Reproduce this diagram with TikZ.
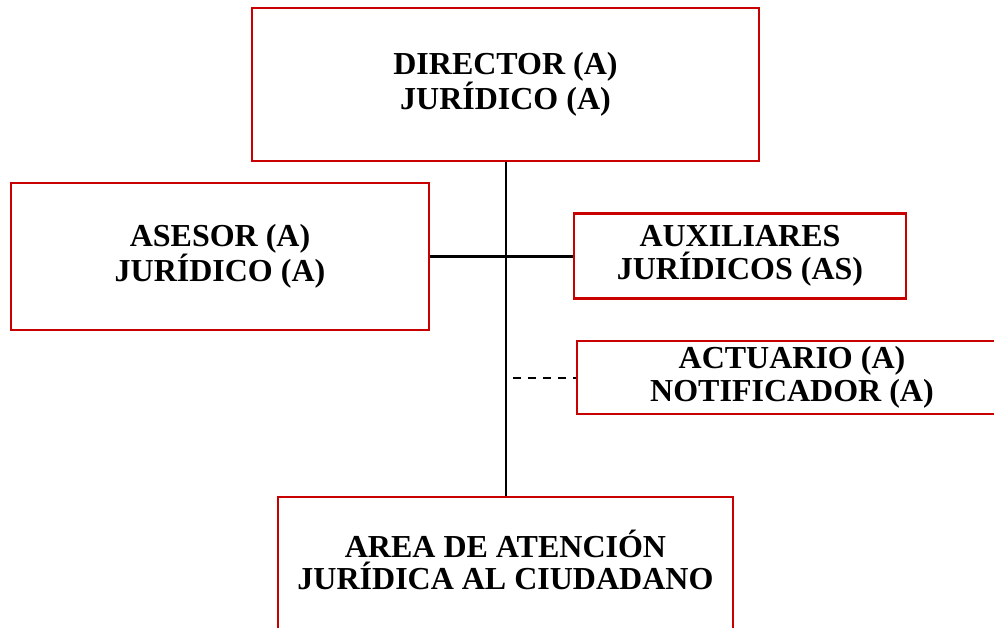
\documentclass[tikz,border=0pt]{standalone}
\usepackage{fontspec}
\setmainfont{Liberation Serif}
\definecolor{boxred}{RGB}{200,0,0}
\begin{document}
\begin{tikzpicture}[x=1pt,y=-1pt,
  lbl/.style={align=center, inner sep=0pt, font=\fontsize{32}{32.5}\selectfont\bfseries},
  orgbox/.style={draw=boxred, line width=2.6pt, fill=white, lbl},
  conn/.style={line width=2.8pt, black},
  dconn/.style={line width=2pt, black, dash pattern=on 8pt off 7pt}]
\useasboundingbox (0,0) rectangle (994,627);
\clip (0,0) rectangle (994,627);
\fill[white] (0,0) rectangle (994,627);
\node[orgbox, minimum width=507pt, minimum height=153pt] (dir) at (505.5,84.5) {DIRECTOR (A)\\JURÍDICO (A)};
\node[orgbox, minimum width=418pt, minimum height=147pt] (ase) at (220,256.5) {ASESOR (A)\\JURÍDICO (A)};
\node[orgbox, minimum width=332pt, minimum height=85pt] (aux) at (740,256) {AUXILIARES\\JURÍDICOS (AS)};
\node[orgbox, minimum width=430pt, minimum height=73pt] (act) at (792,377.5) {ACTUARIO (A)\\NOTIFICADOR (A)};
\node[orgbox, minimum width=455pt, minimum height=134pt] (area) at (505.5,564) {};
\node[lbl] (areatext) at ([yshift=4pt]area.center) {AREA DE ATENCIÓN\\JURÍDICA AL CIUDADANO};
\coordinate (dstart) at (513,377.5);
\draw[conn] (dir.south -| 506,0) -- (area.north -| 506,0);
\draw[conn] (ase.east) -- (aux.west |- ase.east);
\draw[dconn] (dstart) -- (act.west);
\end{tikzpicture}
\end{document}
